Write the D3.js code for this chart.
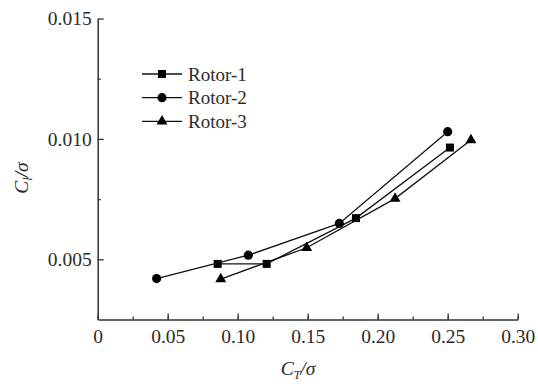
<!DOCTYPE html>
<html>
<head>
<meta charset="utf-8">
<script src="https://cdn.jsdelivr.net/npm/d3@7"></script>
<style>
  body { margin: 0; background: #fff; }
  svg text { font-family: "Liberation Serif", "Times New Roman", Times, serif; }
</style>
</head>
<body>
<div id="chart"></div>
<script>
// data
const seriesNames = ["Rotor-1", "Rotor-2", "Rotor-3"];
const rotor1 = [[0.0857, 0.00481], [0.1207, 0.00481], [0.1845, 0.00671], [0.2516, 0.00964]];
const rotor2 = [[0.0421, 0.00420], [0.1076, 0.00517], [0.1726, 0.00649], [0.2500, 0.01030]];
const rotor3 = [[0.0879, 0.00418], [0.1493, 0.00548], [0.2124, 0.00752], [0.2666, 0.00995]];
const xTicks = [0, 0.05, 0.10, 0.15, 0.20, 0.25, 0.30];
const yTicks = [0.005, 0.010, 0.015];

const width = 538, height = 387;
const serif = "'Liberation Serif', 'Times New Roman', Times, serif";
const fs = 19.5;

const svg = d3.select("#chart").append("svg")
    .attr("width", width)
    .attr("height", height)
    .attr("font-family", serif);

let x = d3.scaleLinear().domain([0, 0.30]).range([97.7, 517.7]);
let y = d3.scaleLinear().domain([0.0025, 0.015]).range([319.5, 18.5]);

const axisColor = "#333";
const textColor = "#2a2a2a";

// x axis, ticks pointing in
let xg = svg.append("g").attr("transform", `translate(0, ${y(0.0025)})`);
xg.call(d3.axisBottom(x).tickValues(d3.range(0, 0.3001, 0.025)).tickSizeInner(-3).tickSizeOuter(0).tickFormat(""));
xg.selectAll(".tick line").attr("stroke", axisColor).attr("stroke-width", 1.3);
xg.select(".domain").remove();
let xg2 = svg.append("g").attr("transform", `translate(0, ${y(0.0025)})`);
xg2.call(d3.axisBottom(x).tickValues(xTicks).tickSizeInner(-6).tickSizeOuter(0)
    .tickFormat(d => d === 0 ? "0" : d3.format(".2f")(d)));
xg2.attr("font-family", serif);
xg2.selectAll(".domain").attr("stroke", axisColor).attr("stroke-width", 1.5);
xg2.selectAll(".tick line").attr("stroke", axisColor).attr("stroke-width", 1.3);
xg2.selectAll(".tick text").attr("y", 9.5).attr("dy", "0.71em")
    .attr("font-size", fs).attr("fill", textColor);

// y axis
let yg = svg.append("g").attr("transform", `translate(${x(0)}, 0)`);
yg.call(d3.axisLeft(y).tickValues([0.0075, 0.0125]).tickSizeInner(-3).tickSizeOuter(0).tickFormat(""));
yg.selectAll(".tick line").attr("stroke", axisColor).attr("stroke-width", 1.3);
yg.select(".domain").remove();
let yg2 = svg.append("g").attr("transform", `translate(${x(0)}, 0)`);
yg2.call(d3.axisLeft(y).tickValues(yTicks).tickSizeInner(-6).tickSizeOuter(0).tickFormat(d3.format(".3f")));
yg2.attr("font-family", serif);
yg2.selectAll(".domain").attr("stroke", axisColor).attr("stroke-width", 1.5);
yg2.selectAll(".tick line").attr("stroke", axisColor).attr("stroke-width", 1.3);
yg2.selectAll(".tick text").attr("x", -6).attr("dy", "0.32em")
    .attr("font-size", fs).attr("fill", textColor);

// axis titles
let xt = svg.append("text").attr("x", 298).attr("y", 375).attr("text-anchor", "middle")
    .attr("font-size", 19.5).attr("font-style", "italic").attr("fill", textColor);
xt.append("tspan").text("C");
xt.append("tspan").attr("font-size", 12).attr("dy", 4).text("T");
xt.append("tspan").attr("dy", -4).text("/σ");

let yt = svg.append("text").attr("transform", "translate(28, 178) rotate(-90)").attr("text-anchor", "middle")
    .attr("font-size", 19.5).attr("font-style", "italic").attr("fill", textColor);
yt.append("tspan").text("C");
yt.append("tspan").attr("font-size", 12).attr("dy", 4).text("l");
yt.append("tspan").attr("dy", -4).text("/σ");

// series
const allSeries = [rotor1, rotor2, rotor3];
const symbols = [d3.symbolSquare, d3.symbolCircle, d3.symbolTriangle];
const symSizes = [64, 66, 52];

let line = d3.line().x(d => x(d[0])).y(d => y(d[1]));

allSeries.forEach((s, i) => {
  svg.append("path").attr("d", line(s)).attr("fill", "none")
      .attr("stroke", "#111").attr("stroke-width", 1.3);
  svg.append("g").selectAll("path").data(s).enter().append("path")
      .attr("transform", d => `translate(${x(d[0])}, ${y(d[1])})`)
      .attr("d", d3.symbol().type(symbols[i]).size(symSizes[i]))
      .attr("fill", "#000");
});

// legend
let legend = svg.append("g").attr("transform", "translate(142, 74)");
seriesNames.forEach((name, i) => {
  let row = legend.append("g").attr("transform", `translate(0, ${i * 23.7})`);
  row.append("line").attr("x1", 0).attr("x2", 40).attr("y1", 0).attr("y2", 0)
      .attr("stroke", "#111").attr("stroke-width", 1.3);
  row.append("path").attr("transform", "translate(20, 0)")
      .attr("d", d3.symbol().type(symbols[i]).size(symSizes[i])).attr("fill", "#000");
  row.append("text").attr("x", 46).attr("dy", "0.35em").attr("font-size", 19)
      .attr("fill", textColor).text(name);
});
</script>
</body>
</html>
